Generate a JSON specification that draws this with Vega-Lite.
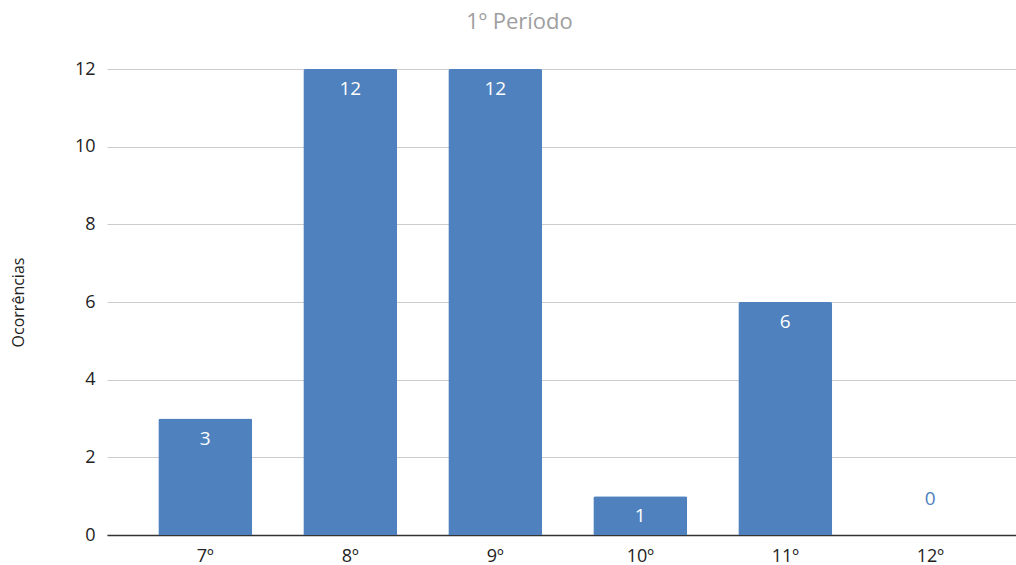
{
  "$schema": "https://vega.github.io/schema/vega-lite/v6.json",
  "autosize": {"type": "none"},
  "width": 909,
  "height": 466,
  "padding": {"left": 107, "top": 69, "right": 0, "bottom": 30},
  "background": "white",
  "config": {
    "font": "Open Sans",
    "view": {"stroke": null}
  },
  "title": {
    "text": "1º Período",
    "color": "#9e9e9e",
    "fontSize": 22,
    "fontWeight": "normal",
    "anchor": "middle",
    "frame": "group",
    "offset": 26,
    "dx": -42
  },
  "data": {
    "values": [
      {"serie": "7º", "ocorrencias": 3},
      {"serie": "8º", "ocorrencias": 12},
      {"serie": "9º", "ocorrencias": 12},
      {"serie": "10º", "ocorrencias": 1},
      {"serie": "11º", "ocorrencias": 6},
      {"serie": "12º", "ocorrencias": 0}
    ]
  },
  "encoding": {
    "x": {
      "field": "serie",
      "type": "nominal",
      "sort": null,
      "scale": {"paddingInner": 0.352, "paddingOuter": 0.3105, "align": 0.57},
      "axis": {
        "title": null,
        "labelAngle": 0,
        "labelFontSize": 18,
        "labelColor": "#222222",
        "labelPadding": 12,
        "ticks": false,
        "domainColor": "#333333",
        "domainWidth": 1.5,
        "grid": false
      }
    },
    "y": {
      "field": "ocorrencias",
      "type": "quantitative",
      "scale": {"domain": [0, 12], "nice": false},
      "axis": {
        "title": "Ocorrências",
        "titleFontSize": 16,
        "titleFontWeight": "normal",
        "titleColor": "#222222",
        "titleX": -89,
        "titleY": 233,
        "titleAngle": -90,
        "titleBaseline": "middle",
        "titleAlign": "center",
        "values": [0, 2, 4, 6, 8, 10, 12],
        "labelFontSize": 18,
        "labelColor": "#222222",
        "labelPadding": 12,
        "ticks": false,
        "domain": false,
        "grid": true,
        "gridColor": "#cccccc",
        "gridWidth": 1.2
      }
    }
  },
  "layer": [
    {
      "mark": {"type": "bar", "color": "#4e81bd", "cornerRadiusTopLeft": 2, "cornerRadiusTopRight": 2}
    },
    {
      "transform": [{"filter": "datum.ocorrencias > 0"}],
      "mark": {"type": "text", "color": "white", "fontSize": 19, "baseline": "middle", "dy": 20},
      "encoding": {"text": {"field": "ocorrencias", "type": "quantitative"}}
    },
    {
      "transform": [{"filter": "datum.ocorrencias == 0"}],
      "mark": {"type": "text", "color": "#4e81bd", "fontSize": 19, "baseline": "middle", "dy": -36},
      "encoding": {"text": {"field": "ocorrencias", "type": "quantitative"}}
    }
  ]
}
